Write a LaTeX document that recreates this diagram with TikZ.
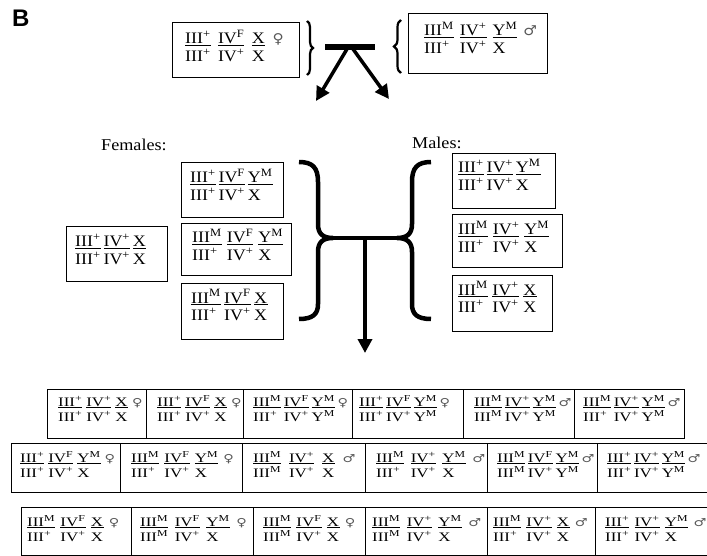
\documentclass[tikz,border=0pt]{standalone}
\usepackage{fontspec}
\setmainfont{Liberation Serif}
\newfontfamily\symf{DejaVu Sans}
\newfontfamily\hvb{Liberation Sans}
\usepackage{graphicx}
\usetikzlibrary{arrows.meta,decorations.pathreplacing}

\newcommand{\A}[2]{#1\textsuperscript{#2}}
\newcommand{\U}[2]{\underline{#1\textsuperscript{#2}}}
\newcommand{\fe}{{\symf\color{black!65}\scalebox{0.85}{♀}}}
\newcommand{\ma}{{\symf\color{black!65}\scalebox{0.85}{♂}}}
\newcommand{\gtab}[2]{\begin{tabular}[t]{@{}l@{\hspace{#1}}l@{\hspace{#1}}l@{\hspace{#1}}l@{}}#2\end{tabular}}
\newcommand{\bt}[2][3pt]{\scalebox{1.3}[1]{\fontsize{13}{15}\selectfont\gtab{#1}{#2}}}
\newcommand{\mt}[2][2.5pt]{\scalebox{1.12}[1]{\fontsize{16}{17.5}\selectfont\gtab{#1}{#2}}}
\newcommand{\gbox}[8]{%
  \node[bx, minimum width=#4pt, minimum height=#5pt] (#1) at (#2,#3) {};
  \node[gt] (#1-t) at ([xshift=#6pt,yshift=-#7pt]#1.north west) {#8};}

\tikzset{
  bx/.style={draw, line width=1pt, inner sep=0pt, anchor=north west},
  gt/.style={inner sep=0pt, anchor=base west},
  thickline/.style={line width=4.5pt},
  bigarrow/.style={line width=3.5pt, -{Triangle[length=14pt,width=14pt]}},
}

\begin{document}
\begin{tikzpicture}[x=1pt,y=-1pt]
\useasboundingbox (0,0) rectangle (707,556);

% panel label
\node[inner sep=0pt, anchor=north west] (lab) at (12,10) {\hvb\bfseries\fontsize{24}{24}\selectfont B};

% parents
\gbox{tf}{172}{22}{127}{55}{13}{22}{\mt[6.5pt]{\U{III}{+} & \U{IV}{F} & \U{X}{} & \fe \\ \A{III}{+} & \A{IV}{+} & X}}
\gbox{tm}{408}{13}{139}{60}{16}{23}{\mt[5.5pt]{\U{III}{M} & \U{IV}{+} & \U{Y}{M} & \ma \\ \A{III}{+} & \A{IV}{+} & X}}

\draw[line width=2.2pt, decorate, decoration={brace, amplitude=6pt}] (307,21) -- (307,75);
\draw[line width=2.2pt, decorate, decoration={brace, amplitude=7pt}] (401,73) -- (401,20);

\coordinate (bl) at (325,47);
\coordinate (br) at (375,47);
\coordinate (apexL) at (347,49);
\coordinate (apexR) at (353,49);
\coordinate (tipL) at (316,101);
\coordinate (tipR) at (389,99);
\draw[line width=5.5pt] (bl) -- (br);
\draw[bigarrow] (apexL) -- (tipL);
\draw[bigarrow] (apexR) -- (tipR);

% F1 labels
\node[gt] (fem) at (101,151) {\scalebox{1.1}[1]{\fontsize{16.5}{18}\selectfont Females:}};
\node[gt] (mal) at (412,149) {\scalebox{1.1}[1]{\fontsize{16.5}{18}\selectfont Males:}};

% F1 females
\gbox{f0}{66}{226}{101}{55}{9}{21}{\mt{\U{III}{+} & \U{IV}{+} & \U{X}{} \\ \A{III}{+} & \A{IV}{+} & X}}
\gbox{f1}{181}{162}{102}{55}{9}{21}{\mt{\U{III}{+} & \U{IV}{F} & \U{Y}{M} \\ \A{III}{+} & \A{IV}{+} & X}}
\gbox{f2}{181}{223}{110}{52}{11}{20}{\mt[4.5pt]{\U{III}{M} & \U{IV}{F} & \U{Y}{M} \\ \A{III}{+} & \A{IV}{+} & X}}
\gbox{f3}{181}{283}{102}{56}{10}{20}{\mt[3pt]{\U{III}{M} & \U{IV}{F} & \U{X}{} \\ \A{III}{+} & \A{IV}{+} & X}}

% F1 males
\gbox{m1}{452}{153}{103}{55}{6}{20}{\mt{\U{III}{+} & \U{IV}{+} & \U{Y}{M} \\ \A{III}{+} & \A{IV}{+} & X}}
\gbox{m2}{452}{214}{110}{53}{6}{21}{\mt[4.5pt]{\U{III}{M} & \U{IV}{+} & \U{Y}{M} \\ \A{III}{+} & \A{IV}{+} & X}}
\gbox{m3}{452}{275}{100}{56}{6}{20}{\mt[4pt]{\U{III}{M} & \U{IV}{+} & \U{X}{} \\ \A{III}{+} & \A{IV}{+} & X}}

% H-shaped double brace and arrow
\coordinate (hL) at (333,238);
\coordinate (hR) at (397,238);
\coordinate (hC) at (365,238);
\coordinate (hT) at (365,353);
\draw[thickline] (299,162) .. controls (313,162) and (318,168) .. (318,182) -- (318,224)
   .. controls (318,234) and (323,238) .. (hL)
   .. controls (323,238) and (318,242) .. (318,252) -- (318,304)
   .. controls (318,314) and (313,319) .. (299,319);
\draw[thickline] (431,162) .. controls (417,162) and (412,168) .. (412,182) -- (412,224)
   .. controls (412,234) and (407,238) .. (hR)
   .. controls (407,238) and (412,242) .. (412,252) -- (412,304)
   .. controls (412,314) and (417,319) .. (431,319);
\draw[thickline] (hL) -- (hR);
\draw[bigarrow] (hC) -- (hT);

% F2 row 1
\gbox{r1a}{47}{389}{99}{49}{11}{17}{\bt{\U{III}{+} & \U{IV}{+} & \U{X}{} & \fe \\ \A{III}{+} & \A{IV}{+} & X}}
\gbox{r1b}{146}{389}{97}{49}{11}{17}{\bt{\U{III}{+} & \U{IV}{F} & \U{X}{} & \fe \\ \A{III}{+} & \A{IV}{+} & X}}
\gbox{r1c}{243}{389}{109}{49}{10}{17}{\bt[2pt]{\U{III}{M} & \U{IV}{F} & \U{Y}{M} & \fe \\ \A{III}{+} & \A{IV}{+} & \A{Y}{M}}}
\gbox{r1d}{352}{389}{111}{49}{7}{17}{\bt[2pt]{\U{III}{+} & \U{IV}{F} & \U{Y}{M} & \fe \\ \A{III}{+} & \A{IV}{+} & \A{Y}{M}}}
\gbox{r1e}{463}{389}{111}{49}{11}{17}{\bt[2pt]{\U{III}{M} & \U{IV}{+} & \U{Y}{M} & \ma \\ \A{III}{M} & \A{IV}{+} & \A{Y}{M}}}
\gbox{r1f}{574}{389}{110}{49}{9}{17}{\bt[2pt]{\U{III}{M} & \U{IV}{+} & \U{Y}{M} & \ma \\ \A{III}{+} & \A{IV}{+} & \A{Y}{M}}}

% F2 row 2
\gbox{r2a}{11}{443}{109}{49}{9}{19}{\bt{\U{III}{+} & \U{IV}{F} & \U{Y}{M} & \fe \\ \A{III}{+} & \A{IV}{+} & X}}
\gbox{r2b}{120}{443}{122}{49}{11}{19}{\bt[4pt]{\U{III}{M} & \U{IV}{F} & \U{Y}{M} & \fe \\ \A{III}{+} & \A{IV}{+} & X}}
\gbox{r2c}{242}{443}{123}{49}{11}{19}{\bt[6pt]{\U{III}{M} & \U{IV}{+} & \U{X}{} & \ma \\ \A{III}{M} & \A{IV}{+} & X}}
\gbox{r2d}{365}{443}{122}{49}{11}{19}{\bt[5pt]{\U{III}{M} & \U{IV}{+} & \U{Y}{M} & \ma \\ \A{III}{+} & \A{IV}{+} & X}}
\gbox{r2e}{487}{443}{110}{49}{10}{19}{\bt[2pt]{\U{III}{M} & \U{IV}{F} & \U{Y}{M} & \ma \\ \A{III}{M} & \A{IV}{+} & \A{Y}{M}}}
\gbox{r2f}{597}{443}{110}{49}{10}{19}{\bt[2pt]{\U{III}{+} & \U{IV}{+} & \U{Y}{M} & \ma \\ \A{III}{+} & \A{IV}{+} & \A{Y}{M}}}

% F2 row 3
\gbox{r3a}{21}{507}{110}{48}{6}{19}{\bt[4pt]{\U{III}{M} & \U{IV}{F} & \U{X}{} & \fe \\ \A{III}{+} & \A{IV}{+} & X}}
\gbox{r3b}{131}{507}{122}{48}{9}{19}{\bt[5pt]{\U{III}{M} & \U{IV}{F} & \U{Y}{M} & \fe \\ \A{III}{M} & \A{IV}{+} & X}}
\gbox{r3c}{253}{507}{112}{48}{10}{19}{\bt[4pt]{\U{III}{M} & \U{IV}{F} & \U{X}{} & \fe \\ \A{III}{M} & \A{IV}{+} & X}}
\gbox{r3d}{365}{507}{122}{48}{7}{19}{\bt[5pt]{\U{III}{M} & \U{IV}{+} & \U{Y}{M} & \ma \\ \A{III}{M} & \A{IV}{+} & X}}
\gbox{r3e}{487}{507}{108}{48}{6}{19}{\bt[4pt]{\U{III}{M} & \U{IV}{+} & \U{X}{} & \ma \\ \A{III}{+} & \A{IV}{+} & X}}
\gbox{r3f}{595}{507}{112}{48}{10}{19}{\bt[4pt]{\U{III}{+} & \U{IV}{+} & \U{Y}{M} & \ma \\ \A{III}{+} & \A{IV}{+} & X}}
\end{tikzpicture}
\end{document}
